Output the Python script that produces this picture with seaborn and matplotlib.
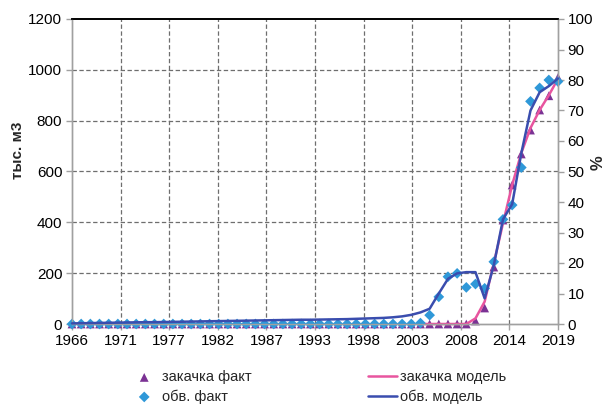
import numpy as np
import pandas as pd
import matplotlib
matplotlib.use("Agg")
import matplotlib.pyplot as plt
import seaborn as sns

# --- data -------------------------------------------------------------
years = list(range(1966, 2020))

# injection, fact (thousand m3)
inj_fact = [0] * 44 + [12, 63, 224, 409, 547, 669, 763, 842, 898, 970]

# injection, model (thousand m3), from 2004
inj_model_years = list(range(2004, 2020))
inj_model = [0, 0, 0, 0, 0, 0, 22, 88, 239, 396, 547, 673, 771, 842, 900, 965]

# water cut, fact (%)
wc_fact = [0] * 38 + [0.3, 2.9, 8.9, 15.5, 16.6, 12.0, 13.1, 11.7,
                      20.4, 34.3, 39.0, 51.3, 73.0, 77.4, 80.0, 79.5]

# water cut, model (%)
wc_model = [0.2, 0.25, 0.3, 0.35, 0.4, 0.45, 0.5, 0.55, 0.6, 0.6,
            0.65, 0.7, 0.75, 0.8, 0.85, 0.9, 0.95, 1.0, 1.05, 1.1,
            1.15, 1.2, 1.25, 1.3, 1.35, 1.4, 1.4, 1.45, 1.5, 1.55,
            1.6, 1.7, 1.8, 1.9, 2.0, 2.2, 2.5, 3.0, 3.8, 5.0,
            10.0, 14.8, 16.6, 17.0, 17.0, 8.4, 19.3, 34.3, 39.3, 56.0,
            70.0, 76.0, 78.0, 80.5]

x_tick_labels = ["1966", "1971", "1977", "1982", "1987", "1993",
                 "1998", "2003", "2008", "2014", "2019"]
left_ticks = [0, 200, 400, 600, 800, 1000, 1200]
right_ticks = list(range(0, 101, 10))

# --- style ------------------------------------------------------------
sns.set_theme(style="white")
plt.rcParams["font.family"] = ["Liberation Sans", "DejaVu Sans"]

c_inj_fact = "#7B3294"
c_inj_model = "#E8559F"
c_wc_fact = "#2F98D8"
c_wc_model = "#3A4DAE"
grid_c = "#6E6E6E"
spine_c = "#A0A0A0"

df_inj = pd.DataFrame({"year": years, "val": inj_fact})
df_inj_m = pd.DataFrame({"year": inj_model_years, "val": inj_model})
df_wc = pd.DataFrame({"year": years, "val": wc_fact})
df_wc_m = pd.DataFrame({"year": years, "val": wc_model})

fig = plt.figure(figsize=(6.08, 4.09), dpi=100)
ax = fig.add_axes([72 / 608, 1 - 324 / 409, (558 - 72) / 608, (324 - 19) / 409])
ax2 = ax.twinx()

# lines first, markers on top
sns.lineplot(data=df_inj_m, x="year", y="val", ax=ax, color=c_inj_model,
             linewidth=1.8, label="закачка модель", legend=False, zorder=3)
sns.lineplot(data=df_wc_m, x="year", y="val", ax=ax2, color=c_wc_model,
             linewidth=1.8, label="обв. модель", legend=False, zorder=4)
sns.scatterplot(data=df_inj, x="year", y="val", ax=ax, marker="^", s=40,
                color=c_inj_fact, edgecolor="none", label="закачка факт",
                legend=False, zorder=2)
sns.scatterplot(data=df_wc, x="year", y="val", ax=ax2, marker="D", s=30,
                color=c_wc_fact, edgecolor="none", label="обв. факт",
                legend=False, zorder=2)

for a in (ax, ax2):
    for art in a.collections + a.lines:
        art.set_clip_on(False)

ax.set_xlim(1966, 2019)
ax.set_ylim(0, 1200)
ax2.set_ylim(0, 100)

ax.set_xticks(np.linspace(1966, 2019, 11))
ax.set_xticklabels(x_tick_labels)
ax.set_yticks(left_ticks)
ax2.set_yticks(right_ticks)

ax.set_xlabel("")
ax.set_ylabel("тыс. м3", fontsize=11, fontweight="bold")
ax2.set_ylabel("%", fontsize=12, fontweight="bold")
ax.yaxis.set_label_coords((25 - 72) / 486, (324 - 150) / 305)
ax2.yaxis.set_label_coords((591 - 72) / 486, (324 - 163) / 305)

# dashed grid inside the plot area
for xv in np.linspace(1966, 2019, 11)[1:-1]:
    ax.axvline(xv, color=grid_c, linestyle=(0, (3.5, 2)), linewidth=0.9, zorder=1)
for yv in left_ticks[1:-1]:
    ax.axhline(yv, color=grid_c, linestyle=(0, (3.5, 2)), linewidth=0.9, zorder=1)
ax.grid(False)
ax2.grid(False)

for a in (ax, ax2):
    for side in ("left", "bottom", "right"):
        a.spines[side].set_color(spine_c)
        a.spines[side].set_linewidth(1.0)
    a.spines["top"].set_color("black")
    a.spines["top"].set_linewidth(1.2)

ax.tick_params(axis="both", which="major", labelsize=11, length=4,
               width=1, color=spine_c, direction="out", pad=3,
               labelcolor="black")
ax.tick_params(axis="y", left=True)
ax.tick_params(axis="x", bottom=True)
ax2.tick_params(axis="y", which="major", labelsize=11, length=4, width=1,
                color=spine_c, direction="out", right=True, pad=3,
                labelcolor="black")

# legend below the plot, two columns
h1, l1 = ax.get_legend_handles_labels()
h2, l2 = ax2.get_legend_handles_labels()
hd = dict(zip(l1 + l2, h1 + h2))
order = ["закачка факт", "обв. факт", "закачка модель", "обв. модель"]
fig.legend([hd[k] for k in order], order, ncol=2, loc="center",
           bbox_to_anchor=(318 / 608, 1 - 387 / 409), frameon=False,
           fontsize=10.5, handlelength=2.0, handletextpad=0.2,
           columnspacing=8.0, labelspacing=0.35)

fig.savefig("out.png", dpi=100)
